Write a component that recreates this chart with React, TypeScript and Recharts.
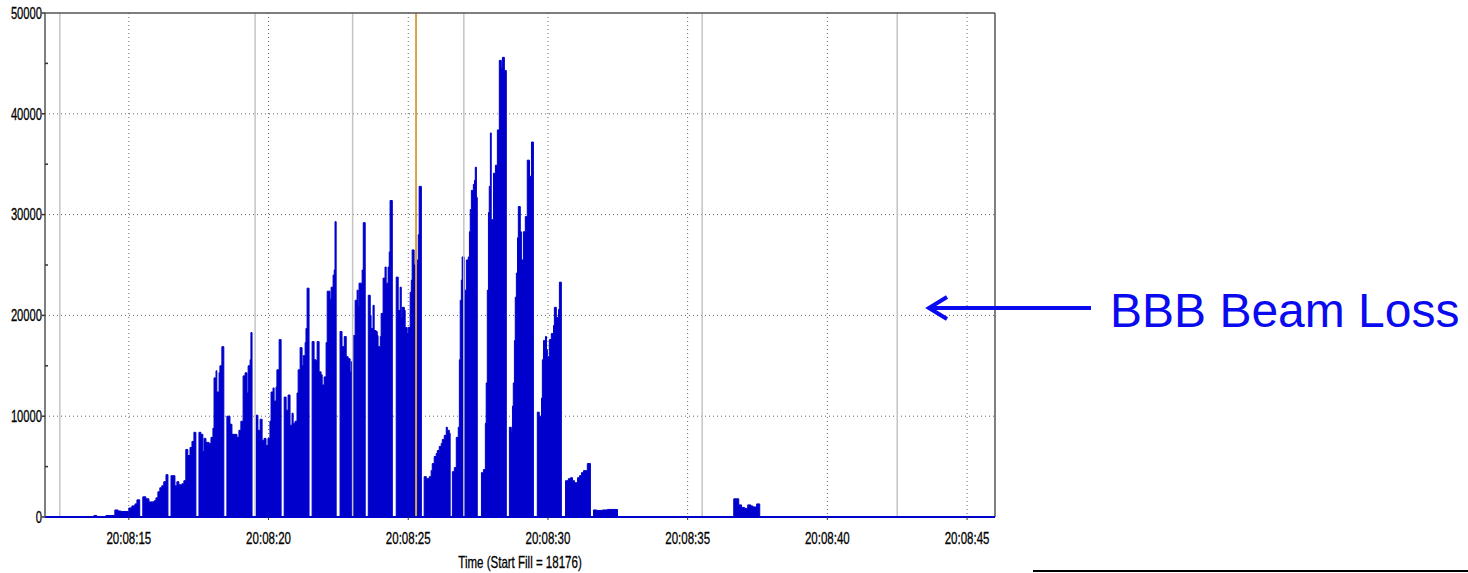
import React from 'react';

import { ComposedChart, Area, XAxis, YAxis, CartesianGrid, ReferenceLine } from 'recharts';

// BBB loss signal, seconds after 20:08:00, each value held until the next time (step)
const stepTimes = [
    12.0, 13.75, 13.85, 14.18, 14.5, 14.61, 14.71, 15.0, 15.11, 15.22, 15.29, 15.39,
    15.5, 15.61, 15.72, 15.9, 15.97, 16.04, 16.11, 16.18, 16.25, 16.33, 16.4,
    16.51, 16.65, 16.72, 16.79, 16.9, 16.97, 17.04, 17.11, 17.19, 17.26, 17.33, 17.4,
    17.51, 17.58, 17.65, 17.69, 17.76, 17.87, 17.94, 18.01, 18.05, 18.12, 18.15, 18.23, 18.26, 18.33, 18.4,
    18.51, 18.62, 18.69, 18.87, 18.94, 19.01, 19.09, 19.16, 19.23, 19.27, 19.34, 19.37, 19.41,
    19.55, 19.62, 19.7, 19.77, 19.84, 19.91, 19.98, 20.05, 20.09, 20.16, 20.2, 20.27, 20.3, 20.38, 20.45,
    20.56, 20.63, 20.7, 20.77, 20.84, 20.88, 20.95, 21.02, 21.06, 21.13, 21.2, 21.24, 21.31, 21.34, 21.38, 21.45,
    21.56, 21.63, 21.7, 21.74, 21.81, 21.88, 21.92, 21.99, 22.06, 22.1, 22.2, 22.24, 22.31, 22.35, 22.38, 22.42,
    22.56, 22.63, 22.71, 22.78, 22.85, 22.92, 22.96, 23.03, 23.1, 23.17, 23.21, 23.24, 23.35, 23.39, 23.46,
    23.57, 23.64, 23.67, 23.74, 23.78, 23.85, 23.89, 23.92, 24.0, 24.03, 24.1, 24.17, 24.21, 24.28, 24.32, 24.35, 24.43,
    24.57, 24.64, 24.71, 24.75, 24.78, 24.86, 24.89, 24.96, 25.0, 25.07, 25.11, 25.14, 25.21, 25.32, 25.36, 25.39, 25.47,
    25.57, 25.65, 25.75, 25.82, 25.86, 25.93, 26.0, 26.04, 26.11, 26.18, 26.22, 26.29, 26.36, 26.4, 26.47, 26.5,
    26.58, 26.65, 26.72, 26.79, 26.83, 26.86, 26.9, 26.93, 27.01, 27.08, 27.15, 27.19, 27.22, 27.26, 27.33, 27.37, 27.4, 27.44, 27.47,
    27.62, 27.69, 27.76, 27.79, 27.83, 27.87, 27.9, 27.94, 27.97, 28.05, 28.12, 28.19, 28.26, 28.33, 28.37, 28.44, 28.51,
    28.62, 28.69, 28.73, 28.76, 28.8, 28.83, 28.87, 28.91, 28.94, 29.01, 29.05, 29.12, 29.19, 29.26, 29.34, 29.41, 29.48,
    29.62, 29.69, 29.77, 29.8, 29.84, 29.91, 29.95, 29.98, 30.05, 30.12, 30.2, 30.23, 30.3, 30.38, 30.41, 30.48,
    30.63, 30.73, 30.81, 30.88, 30.95, 31.06, 31.13, 31.2, 31.27, 31.41, 31.52,
    31.63, 31.74, 31.95, 32.13, 32.49,
    36.65, 36.83, 36.93, 37.04, 37.15, 37.26, 37.33, 37.47, 37.58,
    46.0,
];

const bbbLoss = [
    0, 150, 0, 150, 700, 600, 550, 900, 1100, 1300, 1700, 0,
    2000, 1800, 1500, 1600, 1900, 2500, 2900, 3100, 3500, 4200, 0,
    4100, 3100, 3500, 3200, 3300, 3600, 6700, 6100, 6900, 7500, 8400, 0,
    8400, 8200, 6500, 7800, 7400, 7300, 7900, 8800, 13800, 14500, 12400, 14300, 15000, 16900, 0,
    10000, 9200, 8200, 7900, 8600, 9500, 14000, 14300, 12300, 15000, 15600, 18300, 0,
    10100, 8600, 9700, 7600, 7800, 7100, 7800, 9500, 12400, 12800, 11500, 12900, 14600, 17600, 0,
    11900, 10600, 12100, 9100, 10300, 9300, 9500, 12300, 14600, 16800, 15000, 16000, 17300, 18700, 22700, 0,
    17400, 15600, 15500, 17400, 14400, 14100, 13100, 13900, 17300, 22400, 21600, 22800, 24000, 24500, 29300, 0,
    18400, 16900, 17900, 15900, 15700, 14400, 15400, 18000, 21500, 22500, 20900, 23200, 24500, 29200, 0,
    22000, 20000, 18700, 21000, 18500, 18400, 18000, 16900, 17900, 20200, 23700, 24800, 23200, 24800, 26300, 31400, 0,
    23800, 20500, 22800, 19800, 20800, 20500, 18800, 18200, 18800, 22300, 23500, 26500, 25000, 25500, 28000, 32800, 0,
    4000, 3800, 4000, 4600, 5300, 6000, 6300, 6600, 7000, 7300, 7700, 8100, 8900, 8600, 8300, 0,
    4500, 4900, 7900, 8900, 15600, 21500, 23500, 25800, 22500, 25500, 25800, 28300, 30500, 32400, 33000, 33400, 34700, 31700, 0,
    4400, 4700, 9300, 13300, 22500, 30200, 32800, 38100, 29500, 34100, 34900, 38400, 45300, 44600, 45600, 44300, 0,
    8900, 8400, 11000, 13300, 17500, 21800, 24200, 27700, 30800, 28300, 25500, 28300, 29800, 35400, 33800, 37200, 0,
    10400, 10000, 11800, 15600, 17500, 17900, 16600, 15900, 17600, 18200, 19000, 20800, 19800, 20600, 23300, 0,
    3600, 3800, 3900, 3600, 3400, 3900, 4100, 4400, 4600, 5300, 0,
    700, 650, 700, 750, 0,
    1800, 1200, 950, 850, 1200, 1100, 1000, 1300, 0,
    0,
];

const timeTicks = [15, 20, 25, 30, 35, 40, 45];
const lossTicks = [0, 5000, 10000, 15000, 20000, 25000, 30000, 35000, 40000, 45000, 50000];
const lossGrid = [10000, 20000, 30000, 40000];
const fillMarkers = [12.53, 19.52, 23.01, 26.99, 35.52, 42.5];
const injectionMarker = 25.28;

const rows = stepTimes.map((t, i) => ({ t, loss: bbbLoss[i] }));

const FONT = "'Liberation Sans', Arial, sans-serif";
const BLUE = '#0000cc';

const fmtTime = (s: number) => `20:08:${String(s).padStart(2, '0')}`;

// axis text is squeezed horizontally and slightly stroked to look like the narrow bold-ish label font
const labelStyle = {
    fontSize: 16,
    fontFamily: FONT,
    fill: '#000',
    stroke: '#000',
    strokeWidth: 0.3,
};

const LossTick = (props: any) => {
    const { x, y, payload } = props;
    const v = payload.value;
    const major = v % 10000 === 0;
    if (!major) {
        return <line x1={x} x2={x + 3} y1={y} y2={y} stroke="#333" strokeWidth={1.5} />;
    }
    return (
        <g>
            <line x1={x - 3} x2={x} y1={y} y2={y} stroke="#333" strokeWidth={1.5} />
            <text transform={`translate(${x - 3},${y}) scale(0.7,1)`} textAnchor="end" dy="0.36em" {...labelStyle}>
                {v}
            </text>
        </g>
    );
};

const TimeTick = (props: any) => {
    const { x, y, payload } = props;
    return (
        <text transform={`translate(${x},${y + 24}) scale(0.72,1)`} textAnchor="middle" {...labelStyle}>
            {fmtTime(payload.value)}
        </text>
    );
};

const TimeTitle = (props: any) => {
    const vb = props.viewBox || { x: 45, y: 517, width: 950 };
    const cx = vb.x + vb.width / 2;
    return (
        <text transform={`translate(${cx},${vb.y + 51}) scale(0.72,1)`} textAnchor="middle" {...labelStyle}>
            Time (Start Fill = 18176)
        </text>
    );
};

const App = () => {
    return (
        <div style={{ position: 'absolute', left: 0, top: 0, width: 1468, height: 573, background: '#fff' }}>
            <ComposedChart
                width={1468}
                height={573}
                data={rows}
                margin={{ top: 13, right: 473, bottom: 0, left: 0 }}
            >
                <CartesianGrid
                    stroke="#666"
                    strokeDasharray="1 3"
                    horizontalValues={lossGrid}
                    verticalValues={timeTicks}
                />
                <XAxis
                    dataKey="t"
                    type="number"
                    domain={[12, 46]}
                    ticks={timeTicks}
                    interval={0}
                    allowDataOverflow={true}
                    height={56}
                    tickSize={3}
                    tickMargin={0}
                    tickLine={{ stroke: '#333' }}
                    axisLine={{ stroke: BLUE, strokeWidth: 2 }}
                    tick={<TimeTick />}
                    label={<TimeTitle />}
                />
                <YAxis
                    type="number"
                    domain={[0, 50000]}
                    ticks={lossTicks}
                    interval={0}
                    allowDataOverflow={true}
                    width={45}
                    tickSize={0}
                    tickMargin={0}
                    tickLine={false}
                    axisLine={{ stroke: '#555', strokeWidth: 1.5 }}
                    tick={<LossTick />}
                />
                <Area
                    dataKey="loss"
                    type="stepAfter"
                    stroke={BLUE}
                    strokeWidth={1}
                    fill={BLUE}
                    fillOpacity={1}
                    dot={false}
                    activeDot={false}
                    isAnimationActive={false}
                />
                {fillMarkers.map((t) => (
                    <ReferenceLine key={t} x={t} stroke="#c4c4c4" strokeWidth={1.5} />
                ))}
                <ReferenceLine x={injectionMarker} stroke="#d3a545" strokeWidth={2} />
                <ReferenceLine y={50000} stroke="#555" strokeWidth={1.5} />
                <ReferenceLine x={46} stroke="#555" strokeWidth={1.5} />
            </ComposedChart>
            <svg
                width={1468}
                height={573}
                style={{ position: 'absolute', left: 0, top: 0, pointerEvents: 'none' }}
            >
                <line x1={930} y1={308} x2={1091} y2={308} stroke="#0a0af0" strokeWidth={4} />
                <polyline points="947,297 929,308 947,319" fill="none" stroke="#0a0af0" strokeWidth={4} />
                <text x={1110} y={327} fontSize={48} fontFamily={FONT} fill="#0a0af0">
                    BBB Beam Loss
                </text>
                <line x1={1033} y1={571} x2={1468} y2={571} stroke="#000" strokeWidth={2} />
            </svg>
        </div>
    );
};

export default App;
